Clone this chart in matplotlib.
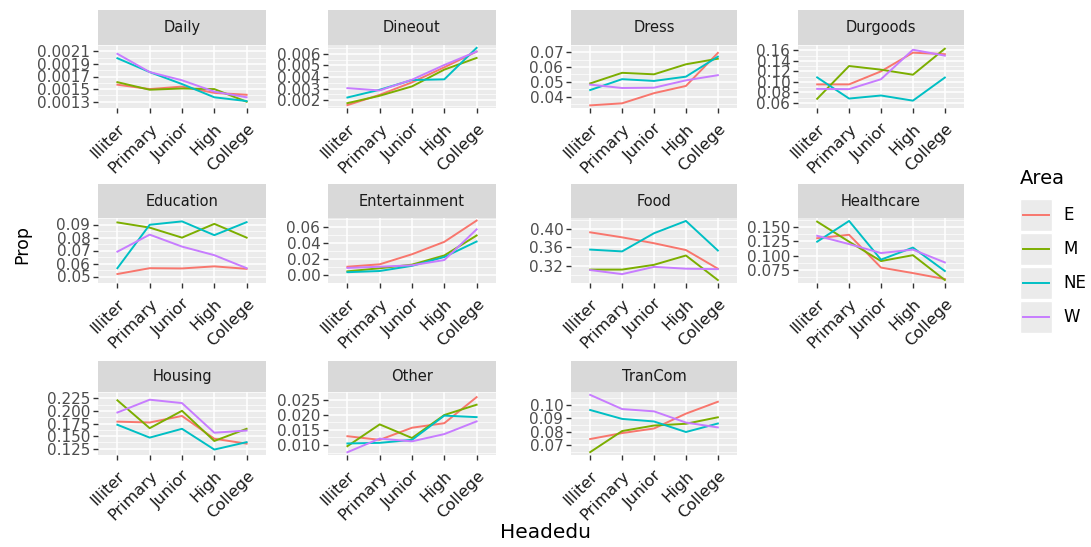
import matplotlib
matplotlib.use("Agg")
import matplotlib.pyplot as plt
import numpy as np
from matplotlib.lines import Line2D
from matplotlib.patches import Rectangle

W, H = 1091, 547

areas = ['E', 'M', 'NE', 'W']
area_colors = ['#F8766D', '#7CAE00', '#00BFC4', '#C77CFF']
levels = ['Illiter', 'Primary', 'Junior', 'High', 'College']

# rows are areas E, M, NE, W; columns are the education levels
daily = [[0.00157, 0.00150, 0.00154, 0.00144, 0.00141],
         [0.00161, 0.00149, 0.00151, 0.00150, 0.00130],
         [0.00199, 0.00177, 0.00158, 0.00137, 0.00131],
         [0.00206, 0.00177, 0.00164, 0.00146, 0.00137]]
dineout = [[0.00157, 0.00246, 0.00354, 0.00484, 0.00620],
           [0.00174, 0.00238, 0.00319, 0.00464, 0.00565],
           [0.00223, 0.00290, 0.00374, 0.00380, 0.00652],
           [0.00304, 0.00284, 0.00377, 0.00504, 0.00620]]
dress = [[0.0340, 0.0354, 0.0423, 0.0472, 0.0696],
         [0.0489, 0.0561, 0.0551, 0.0619, 0.0657],
         [0.0444, 0.0518, 0.0506, 0.0535, 0.0671],
         [0.0481, 0.0458, 0.0460, 0.0510, 0.0545]]
durgoods = [[0.0950, 0.0950, 0.1198, 0.1554, 0.1525],
            [0.0675, 0.1300, 0.1230, 0.1134, 0.1630],
            [0.1083, 0.0680, 0.0738, 0.0640, 0.1080],
            [0.0864, 0.0859, 0.1048, 0.1610, 0.1497]]
education = [[0.0519, 0.0564, 0.0562, 0.0578, 0.0559],
             [0.0916, 0.0876, 0.0799, 0.0905, 0.0799],
             [0.0564, 0.0898, 0.0924, 0.0818, 0.0918],
             [0.0691, 0.0822, 0.0730, 0.0664, 0.0564]]
entertainment = [[0.0102, 0.0132, 0.0257, 0.0411, 0.0675],
                 [0.0045, 0.0083, 0.0128, 0.0242, 0.0490],
                 [0.0034, 0.0049, 0.0113, 0.0223, 0.0415],
                 [0.0087, 0.0102, 0.0120, 0.0185, 0.0566]]
food = [[0.393, 0.382, 0.369, 0.354, 0.313],
        [0.311, 0.311, 0.3215, 0.342, 0.288],
        [0.355, 0.351, 0.391, 0.418, 0.353],
        [0.310, 0.301, 0.317, 0.313, 0.312]]
healthcare = [[0.1305, 0.1366, 0.0787, 0.0690, 0.0585],
              [0.1598, 0.1244, 0.0902, 0.1006, 0.0567],
              [0.1244, 0.1610, 0.0927, 0.1140, 0.0726],
              [0.1348, 0.1202, 0.1043, 0.1104, 0.0878]]
housing = [[0.1787, 0.1770, 0.1900, 0.1448, 0.1350],
           [0.2210, 0.1657, 0.2002, 0.1403, 0.1645],
           [0.1725, 0.1470, 0.1645, 0.1233, 0.1380],
           [0.1968, 0.2222, 0.2155, 0.1567, 0.1610]]
other = [[0.0129, 0.0117, 0.0157, 0.0172, 0.0258],
         [0.0096, 0.0168, 0.0123, 0.0199, 0.0233],
         [0.0105, 0.0107, 0.0117, 0.0197, 0.0192],
         [0.0076, 0.0121, 0.0112, 0.0136, 0.0178]]
trancom = [[0.0746, 0.0790, 0.0824, 0.0934, 0.1022],
           [0.0649, 0.0805, 0.0846, 0.0859, 0.0907],
           [0.0961, 0.0895, 0.0876, 0.0798, 0.0861],
           [0.1073, 0.0968, 0.0951, 0.0868, 0.0832]]

facet_names = ['Daily', 'Dineout', 'Dress', 'Durgoods', 'Education', 'Entertainment',
               'Food', 'Healthcare', 'Housing', 'Other', 'TranCom']
facet_data = [daily, dineout, dress, durgoods, education, entertainment,
              food, healthcare, housing, other, trancom]
facet_ticks = [
    ['0.0013', '0.0015', '0.0017', '0.0019', '0.0021'],
    ['0.002', '0.003', '0.004', '0.005', '0.006'],
    ['0.04', '0.05', '0.06', '0.07'],
    ['0.06', '0.08', '0.10', '0.12', '0.14', '0.16'],
    ['0.05', '0.06', '0.07', '0.08', '0.09'],
    ['0.00', '0.02', '0.04', '0.06'],
    ['0.32', '0.36', '0.40'],
    ['0.075', '0.100', '0.125', '0.150'],
    ['0.125', '0.150', '0.175', '0.200', '0.225'],
    ['0.010', '0.015', '0.020', '0.025'],
    ['0.07', '0.08', '0.09', '0.10'],
]

# panel layout in pixels
col_x = [(98, 266), (328, 496), (571, 737), (798, 964)]
row_y = [(10, 45, 108), (184, 218, 283), (361, 392, 455)]


def box(x0, y0, x1, y1):
    return [x0 / W, 1 - y1 / H, (x1 - x0) / W, (y1 - y0) / H]


fig = plt.figure(figsize=(W / 100, H / 100), dpi=100)
x = np.arange(len(levels))

for i, name in enumerate(facet_names):
    r, c = divmod(i, 4)
    x0, x1 = col_x[c]
    s0, s1, p1 = row_y[r]

    # strip
    sax = fig.add_axes(box(x0, s0, x1, s1))
    sax.set_facecolor('#D9D9D9')
    sax.set_xticks([])
    sax.set_yticks([])
    for sp in sax.spines.values():
        sp.set_visible(False)
    sax.text(0.5, 0.5, name, ha='center', va='center', fontsize=10.5, color='#1A1A1A',
             transform=sax.transAxes)

    ax = fig.add_axes(box(x0, s1, x1, p1))
    ax.set_facecolor('#EBEBEB')
    for sp in ax.spines.values():
        sp.set_visible(False)
    vals = facet_data[i]
    for k, area in enumerate(areas):
        ax.plot(x, vals[k], color=area_colors[k], lw=1.4, zorder=3)

    ticks = [float(t) for t in facet_ticks[i]]
    allv = np.array(vals)
    lo, hi = allv.min(), allv.max()
    pad = (hi - lo) * 0.05
    ax.set_ylim(lo - pad, hi + pad)
    ax.set_xlim(-0.6, len(levels) - 0.4)
    ax.set_yticks(ticks)
    ax.set_yticklabels(facet_ticks[i])
    step = ticks[1] - ticks[0]
    minor = [t + step / 2 for t in [ticks[0] - step] + ticks]
    ax.set_yticks(minor, minor=True)
    ax.set_xticks(x)
    ax.set_xticklabels(levels, rotation=45, ha='right', va='top',
                       rotation_mode='anchor', fontsize=11.5, color='#1A1A1A')
    ax.tick_params(axis='y', labelsize=11, labelcolor='#4D4D4D', color='#333333',
                   length=3.5, width=1, pad=2)
    ax.tick_params(axis='y', which='minor', length=0)
    ax.tick_params(axis='x', color='#333333', length=3.5, width=1, pad=6)
    ax.grid(True, which='major', color='white', lw=1.1, zorder=1)
    ax.grid(True, which='minor', axis='y', color='white', lw=0.5, zorder=1)
    ax.set_axisbelow(True)

fig.text(545 / W, 1 - 533 / H, 'Headedu', ha='center', va='center', fontsize=14.5)
fig.text(22 / W, 1 - 245 / H, 'Prop', ha='center', va='center', fontsize=12.5, rotation=90)

# legend
fig.text(1020 / W, 1 - 178 / H, 'Area', ha='left', va='center', fontsize=14)
for k, area in enumerate(areas):
    ky0 = 199 + 34 * k
    ky1 = ky0 + 32
    fig.patches.append(Rectangle((1020 / W, 1 - ky1 / H), 32 / W, 32 / H,
                                 transform=fig.transFigure, facecolor='#EBEBEB',
                                 edgecolor='white', lw=1))
    yc = 1 - (ky0 + 16) / H
    fig.lines.append(Line2D([1023 / W, 1049 / W], [yc, yc], transform=fig.transFigure,
                            color=area_colors[k], lw=1.4))
    fig.text(1063 / W, yc, area, ha='left', va='center', fontsize=12)

fig.savefig('out.png', dpi=100)
